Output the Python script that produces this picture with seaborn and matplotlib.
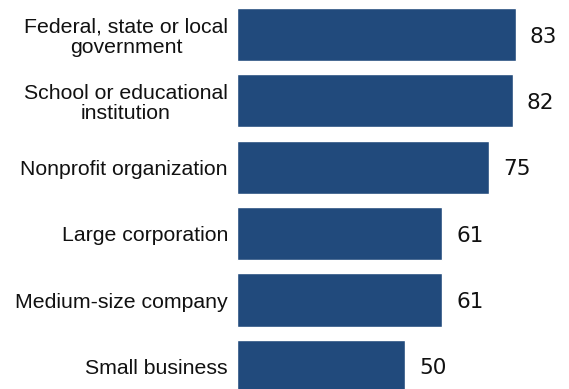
import matplotlib
matplotlib.use("Agg")
import matplotlib.pyplot as plt
import seaborn as sns
import pandas as pd

categories = [
    "Federal, state or local\ngovernment",
    "School or educational\ninstitution",
    "Nonprofit organization",
    "Large corporation",
    "Medium-size company",
    "Small business",
]
values = [83, 82, 75, 61, 61, 50]

sns.set_theme(style="white")
plt.rcParams["font.family"] = ["Liberation Sans", "DejaVu Sans"]

df = pd.DataFrame({"category": categories, "value": values})

fig = plt.figure(figsize=(5.69, 3.89), dpi=100)
ax = fig.add_axes([237 / 569, 0, 1 - 237 / 569, 1])

sns.barplot(data=df, x="value", y="category", color="#214a7c",
            saturation=1, width=0.8, ax=ax, orient="h")

ax.set_xlim(0, (569 - 237) / 3.36)
ax.set_ylim(5.34, -0.52)

for i, v in enumerate(values):
    ax.text(v + 4.2, i + 0.03, str(v), va="center", ha="left",
            fontsize=15.5, color="#111111", family="DejaVu Sans")

ax.set_xlabel("")
ax.set_ylabel("")
ax.set_xticks([])
ax.tick_params(axis="y", length=0, pad=6.5, labelsize=15.3, labelcolor="#111111")
for lbl in ax.get_yticklabels():
    lbl.set_multialignment("center")
    lbl.set_linespacing(1.08)
sns.despine(ax=ax, left=True, bottom=True)

fig.savefig("out.png", dpi=100)
